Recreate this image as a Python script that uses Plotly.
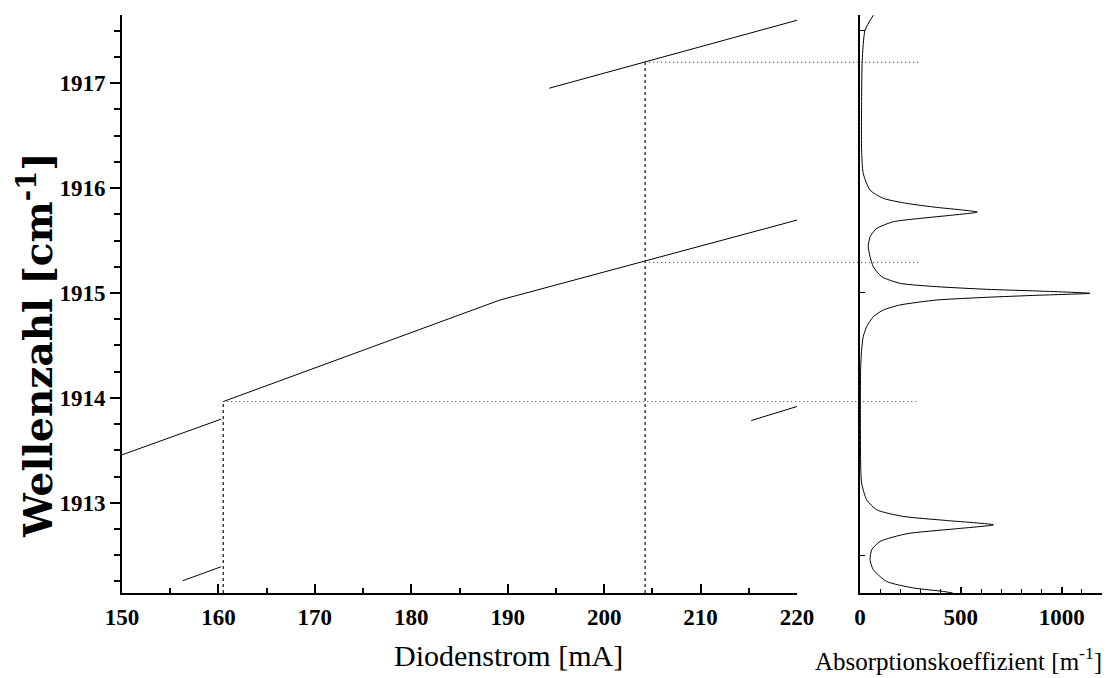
import plotly.graph_objects as go

# ---------------- data ----------------
# laser tuning curve segments: diode current [mA] vs wavenumber [cm^-1]
seg1_current = [150.0, 160.27]
seg1_wn = [1913.457, 1913.797]
seg2_current = [160.5, 189.2, 220.0]
seg2_wn = [1913.965, 1914.933, 1915.695]
seg3_current = [194.3, 220.0]
seg3_wn = [1916.952, 1917.60]
seg4_current = [156.3, 160.27]
seg4_wn = [1912.257, 1912.39]
seg5_current = [215.25, 220.0]
seg5_wn = [1913.784, 1913.918]

# absorption spectrum (wavenumber, absorption coefficient [m^-1])
abs_wn = [1917.648, 1917.505, 1917.219, 1916.838, 1916.362, 1916.140, 1915.981,
          1915.902, 1915.854, 1915.816, 1915.790, 1915.771, 1915.743, 1915.711,
          1915.679, 1915.616, 1915.536, 1915.441, 1915.346, 1915.250, 1915.155,
          1915.092, 1915.060, 1915.035, 1915.019, 1914.997, 1914.978, 1914.959,
          1914.933, 1914.886, 1914.838, 1914.774, 1914.679, 1914.584, 1914.457,
          1914.267, 1913.790, 1913.410, 1913.188, 1913.029, 1912.933, 1912.870,
          1912.831, 1912.790, 1912.750, 1912.705, 1912.631, 1912.552, 1912.457,
          1912.362, 1912.250, 1912.188, 1912.155, 1912.140]
abs_val = [66, 25, 11, 8, 8, 16, 50,
           116, 232, 381, 513, 582, 463, 298,
           165, 83, 50, 41, 50, 66, 108,
           199, 381, 629, 877, 1141, 877, 629,
           381, 199, 116, 66, 33, 16, 8,
           3, 2, 3, 8, 33, 83, 215,
           430, 662, 463, 232, 99, 58, 50,
           66, 132, 265, 413, 460]

# marked operating points (dotted guide lines)
mark_current = [160.5, 204.25, 204.25]
mark_wn = [1913.965, 1915.29, 1917.20]
mark_abs_end = 290

x_ticks = [150, 160, 170, 180, 190, 200, 210, 220]
y_ticks = [1913, 1914, 1915, 1916, 1917]
a_ticks = [0, 500, 1000]

X_RANGE = [150, 220]
Y_RANGE = [1912.14, 1917.65]
A_RANGE = [0, 1200]

# ---------------- layout geometry ----------------
W, H = 1112, 678
LX = [122 / W, 797 / W]
RX = [860 / W, 1102 / W]
YD = [(H - 593) / H, (H - 15) / H]


def left_to_paper(c):
    return LX[0] + (c - X_RANGE[0]) / (X_RANGE[1] - X_RANGE[0]) * (LX[1] - LX[0])


def right_to_paper(a):
    return RX[0] + (a - A_RANGE[0]) / (A_RANGE[1] - A_RANGE[0]) * (RX[1] - RX[0])


fig = go.Figure()

line_style = dict(color="black", width=1)
for cx, wy in [(seg1_current, seg1_wn), (seg2_current, seg2_wn), (seg3_current, seg3_wn),
               (seg4_current, seg4_wn), (seg5_current, seg5_wn)]:
    fig.add_trace(go.Scatter(x=cx, y=wy, mode="lines", line=line_style,
                             xaxis="x", yaxis="y", showlegend=False, hoverinfo="skip"))

# vertical dotted guide lines (left panel)
for c, w in [(mark_current[0], mark_wn[0]), (mark_current[2], mark_wn[2])]:
    fig.add_trace(go.Scatter(x=[c, c], y=[Y_RANGE[0], w], mode="lines",
                             line=dict(color="#222", width=1.3, dash="3px,3px"),
                             xaxis="x", yaxis="y", showlegend=False, hoverinfo="skip"))

# absorption spectrum (right panel)
fig.add_trace(go.Scatter(x=abs_val, y=abs_wn, mode="lines",
                         line=dict(color="black", width=1, shape="spline", smoothing=0.6),
                         xaxis="x2", yaxis="y2", showlegend=False, hoverinfo="skip"))

# horizontal dotted guide lines across both panels (overlay subplot in paper units)
for c, w in zip(mark_current, mark_wn):
    fig.add_trace(go.Scatter(x=[left_to_paper(c), right_to_paper(mark_abs_end)], y=[w, w],
                             mode="lines", line=dict(color="#333", width=1, dash="1px,3px"),
                             xaxis="x3", yaxis="y3", showlegend=False, hoverinfo="skip"))

tick_font = dict(family="Liberation Serif, serif", size=23, color="black", weight="bold")

fig.update_layout(
    width=W, height=H,
    margin=dict(l=0, r=0, t=0, b=0, autoexpand=False),
    paper_bgcolor="white", plot_bgcolor="rgba(0,0,0,0)",
    xaxis=dict(domain=LX, range=X_RANGE, anchor="y", tickvals=x_ticks,
               showgrid=False, zeroline=False, showline=True, linecolor="black", linewidth=1.6,
               ticks="inside", ticklen=9, tickwidth=1.5, tickcolor="black",
               minor=dict(dtick=5, ticks="inside", ticklen=5, tickwidth=1.5, tickcolor="black"),
               tickfont=tick_font, ticklabelstandoff=3, automargin=False),
    yaxis=dict(domain=YD, range=Y_RANGE, anchor="x", tickvals=y_ticks, tickformat="d",
               showgrid=False, zeroline=False, showline=True, linecolor="black", linewidth=1.6,
               ticks="outside", ticklen=10, tickwidth=1.5, tickcolor="black",
               minor=dict(dtick=0.25, tick0=1912, ticks="outside", ticklen=6, tickwidth=1.5,
                          tickcolor="black"),
               tickfont=tick_font, automargin=False),
    xaxis2=dict(domain=RX, range=A_RANGE, anchor="y2", tickvals=a_ticks,
                showgrid=False, zeroline=False, showline=True, linecolor="black", linewidth=1.6,
                ticks="inside", ticklen=6, tickwidth=1.5, tickcolor="black",
                minor=dict(dtick=100, ticks="inside", ticklen=4, tickwidth=1.2, tickcolor="black"),
                tickfont=tick_font, ticklabelstandoff=3, automargin=False),
    yaxis2=dict(domain=YD, range=Y_RANGE, anchor="x2", tickvals=[1912.5, 1915, 1917.5],
                showticklabels=False, showgrid=False, zeroline=False, showline=True,
                linecolor="black", linewidth=1.6, ticks="inside", ticklen=5, tickwidth=1.3,
                tickcolor="black", automargin=False),
    xaxis3=dict(domain=[0, 1], range=[0, 1], anchor="y3", visible=False),
    yaxis3=dict(domain=YD, range=Y_RANGE, anchor="x3", visible=False),
    annotations=[
        dict(text="Wellenzahl [cm<sup>-1</sup>]", textangle=-90, xref="paper", yref="paper",
             x=35 / W, y=(H - 345) / H, xanchor="center", yanchor="middle", showarrow=False,
             font=dict(family="DejaVu Serif, serif", size=39, color="black", weight="bold")),
        dict(text="Diodenstrom [mA]", xref="paper", yref="paper",
             x=508 / W, y=(H - 655) / H, xanchor="center", yanchor="middle", showarrow=False,
             font=dict(family="Liberation Serif, serif", size=30, color="black")),
        dict(text="Absorptionskoeffizient [m<sup>-1</sup>]", xref="paper", yref="paper",
             x=958 / W, y=(H - 659) / H, xanchor="center", yanchor="middle", showarrow=False,
             font=dict(family="Liberation Serif, serif", size=25, color="black")),
    ],
)

fig.write_html("out.html")
